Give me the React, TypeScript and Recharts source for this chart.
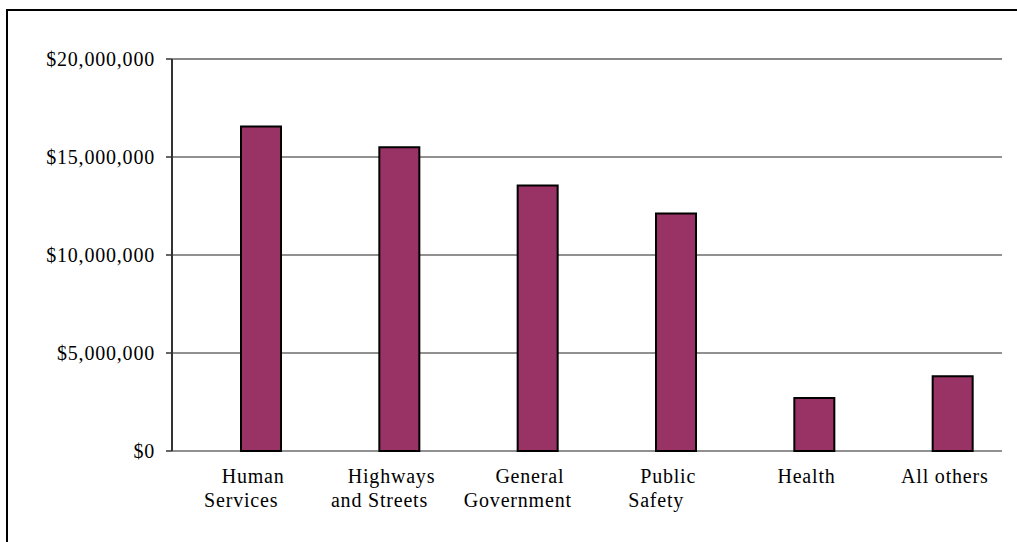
import { BarChart, Bar, XAxis, YAxis, CartesianGrid, ReferenceLine } from 'recharts';

const CATEGORIES = ['Human|Services', 'Highways|and Streets', 'General|Government', 'Public|Safety', 'Health', 'All others'];
const SPENDING = [16550000, 15500000, 13550000, 12120000, 2700000, 3820000];
const Y_TICKS = [0, 5000000, 10000000, 15000000, 20000000];
const EDGE_TICKS = [0, 1, 2, 3, 4, 5, 6];

const data = CATEGORIES.map((name, i) => ({ name, blank: null, spending: SPENDING[i] }));

const FONT = '"Liberation Serif", "Times New Roman", serif';

const money = (v: number) => '$' + v.toLocaleString('en-US');

function CategoryTick(props: any) {
  const { x, y, payload } = props;
  const lines = String(payload.value).split('|');
  return (
    <text
      x={x}
      y={y}
      textAnchor="middle"
      fontFamily={FONT}
      fontSize={20}
      letterSpacing={0.8}
      fill="#000"
    >
      {lines.map((line, i) => (
        <tspan key={i} x={i === 0 ? x + 12 : x} y={y + 24 + i * 24}>
          {line}
        </tspan>
      ))}
    </text>
  );
}

export default function App() {
  return (
    <div
      style={{
        position: 'absolute',
        left: 6,
        top: 9,
        width: 1013,
        height: 535,
        borderTop: '2px solid #000',
        borderLeft: '2px solid #000',
      }}
    >
      <BarChart
        width={1011}
        height={531}
        data={data}
        margin={{ top: 48, right: 17, left: 0, bottom: 0 }}
        barGap={0}
        barSize={40}
      >
        <CartesianGrid horizontal vertical={false} stroke="#222" strokeWidth={1} />
        <XAxis
          xAxisId="edges"
          type="number"
          domain={[0, 6]}
          ticks={EDGE_TICKS}
          height={0}
          axisLine={{ stroke: '#333', strokeWidth: 2 }}
          tickLine={{ stroke: '#333', strokeWidth: 1.5 }}
          tickSize={6}
          tickFormatter={() => ''}
        />
        <XAxis
          dataKey="name"
          height={91}
          axisLine={false}
          tickLine={false}
          interval={0}
          tick={<CategoryTick />}
        />
        <YAxis
          width={164}
          domain={[0, 20000000]}
          ticks={Y_TICKS}
          tickFormatter={money}
          axisLine={{ stroke: '#333', strokeWidth: 2 }}
          tickLine={{ stroke: '#333', strokeWidth: 1.5 }}
          tickSize={6}
          tickMargin={11}
          tick={{ fontFamily: FONT, fontSize: 20, letterSpacing: 0.8, fill: '#000' }}
        />
        <ReferenceLine y={20000000} stroke="#888" strokeWidth={2} />
        <ReferenceLine xAxisId="edges" x={6} stroke="#888" strokeWidth={2} />
        <Bar dataKey="blank" isAnimationActive={false} fill="#993366" />
        <Bar dataKey="spending" isAnimationActive={false} fill="#993366" stroke="#000" strokeWidth={2} />
      </BarChart>
    </div>
  );
}
